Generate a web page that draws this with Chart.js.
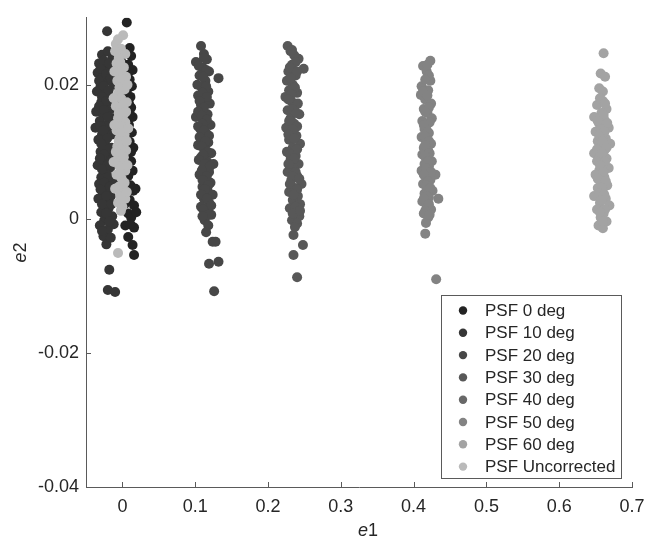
<!DOCTYPE html>
<html>
<head>
<meta charset="utf-8">
<script src="https://cdn.jsdelivr.net/npm/chart.js@4.4.1/dist/chart.umd.min.js"></script>
<style>
  html, body { margin: 0; padding: 0; background: #fff; }
  #wrap { width: 662px; height: 542px; }
</style>
</head>
<body>
<div id="wrap"><canvas id="chart" width="662" height="542"></canvas></div>
<script>
// --- DATA ---
const seriesNames = ['PSF 0 deg', 'PSF 10 deg', 'PSF 20 deg', 'PSF 30 deg',
                     'PSF 40 deg', 'PSF 50 deg', 'PSF 60 deg', 'PSF Uncorrected'];

// [e1, e2] pairs per series
const psf0 = [[0.006,0.0293],[0.010,0.0255],[0.004,0.0248],[0.012,0.0243],[-0.002,0.0236],[0.008,0.0230],
  [0.014,0.0222],[0.002,0.0215],[0.010,0.0208],[0.013,0.0198],[-0.004,0.0205],[0.006,0.0190],[0.011,0.0182],
  [0.000,0.0176],[0.012,0.0166],[0.005,0.0160],[0.014,0.0152],[-0.003,0.0148],[0.009,0.0140],[0.013,0.0129],
  [0.002,0.0122],[0.010,0.0115],[0.015,0.0106],[-0.005,0.0100],[0.007,0.0094],[0.012,0.0086],[0.001,0.0080],
  [0.014,0.0072],[0.008,0.0064],[-0.002,0.0058],[0.011,0.0050],[0.015,0.0042],[0.004,0.0036],[0.010,0.0028],
  [0.016,0.0020],[-0.001,0.0014],[0.008,0.0008],[0.012,0.0002],[0.016,-0.0013],[0.008,-0.0027],[0.014,-0.0039],
  [0.016,-0.0054],[0.004,-0.0010],[0.019,0.0010],[0.018,0.0045],
  [0.008,0.0218],[0.003,0.0200],[0.009,0.0172],[0.004,0.0134],[0.012,0.0100],[0.005,0.0070],[0.009,0.0046],
  [0.003,0.0022],[0.011,-0.0008],[0.006,0.0112],[0.010,0.0156]];
const psf10 = [[-0.021,0.0280],[-0.028,0.0245],[-0.020,0.0250],[-0.014,0.0240],[-0.032,0.0232],[-0.024,0.0228],
  [-0.017,0.0222],[-0.034,0.0218],[-0.027,0.0212],[-0.021,0.0206],[-0.012,0.0200],[-0.030,0.0198],[-0.035,0.0190],
  [-0.024,0.0186],[-0.016,0.0180],[-0.029,0.0174],[-0.020,0.0168],[-0.036,0.0160],[-0.026,0.0156],[-0.013,0.0150],
  [-0.031,0.0146],[-0.022,0.0140],[-0.018,0.0132],[-0.028,0.0126],[-0.033,0.0118],[-0.024,0.0112],[-0.015,0.0106],
  [-0.030,0.0100],[-0.020,0.0094],[-0.026,0.0086],[-0.034,0.0080],[-0.017,0.0076],[-0.023,0.0068],[-0.029,0.0062],
  [-0.013,0.0058],[-0.032,0.0052],[-0.021,0.0046],[-0.027,0.0040],[-0.016,0.0034],[-0.033,0.0030],[-0.024,0.0024],
  [-0.019,0.0016],[-0.029,0.0010],[-0.014,0.0004],[-0.025,-0.0002],[-0.031,-0.0010],[-0.020,-0.0016],[-0.026,-0.0026],
  [-0.012,-0.0008],[-0.022,-0.0038],[-0.018,-0.0076],[-0.020,-0.0106],[-0.010,-0.0109],[-0.037,0.0136],
  [-0.026,0.0236],[-0.018,0.0232],[-0.030,0.0224],[-0.022,0.0216],[-0.016,0.0210],[-0.032,0.0206],[-0.026,0.0198],
  [-0.019,0.0192],[-0.028,0.0182],[-0.022,0.0176],[-0.032,0.0168],[-0.015,0.0164],[-0.025,0.0162],[-0.020,0.0152],
  [-0.030,0.0138],[-0.026,0.0132],[-0.014,0.0126],[-0.021,0.0120],[-0.029,0.0112],[-0.019,0.0104],[-0.025,0.0096],
  [-0.031,0.0090],[-0.015,0.0088],[-0.021,0.0080],[-0.028,0.0074],[-0.019,0.0062],[-0.025,0.0054],[-0.017,0.0048],
  [-0.030,0.0044],[-0.022,0.0034],[-0.028,0.0022],[-0.015,0.0022],[-0.022,0.0008],[-0.018,-0.0004],[-0.028,-0.0018],
  [-0.016,-0.0028]];
const psf20 = [[0.108,0.0258],[0.112,0.0246],[0.101,0.0234],[0.116,0.0238],[0.110,0.0226],[0.119,0.0220],
  [0.132,0.0210],[0.106,0.0214],[0.114,0.0206],[0.109,0.0196],[0.118,0.0190],[0.104,0.0184],[0.113,0.0178],
  [0.108,0.0170],[0.120,0.0172],[0.111,0.0162],[0.117,0.0156],[0.101,0.0152],[0.113,0.0146],[0.121,0.0140],
  [0.107,0.0134],[0.115,0.0128],[0.110,0.0120],[0.118,0.0114],[0.104,0.0110],[0.113,0.0104],[0.122,0.0098],
  [0.108,0.0092],[0.116,0.0086],[0.125,0.0082],[0.111,0.0076],[0.119,0.0070],[0.106,0.0066],[0.114,0.0060],
  [0.121,0.0054],[0.110,0.0048],[0.117,0.0042],[0.124,0.0036],[0.112,0.0030],[0.119,0.0024],[0.108,0.0018],
  [0.115,0.0012],[0.122,0.0006],[0.113,-0.0002],[0.118,-0.0010],[0.115,-0.0020],[0.124,-0.0034],[0.128,-0.0034],
  [0.119,-0.0067],[0.132,-0.0064],[0.126,-0.0108],
  [0.112,0.0240],[0.105,0.0228],[0.115,0.0222],[0.111,0.0212],[0.103,0.0200],[0.115,0.0198],[0.110,0.0188],
  [0.116,0.0182],[0.106,0.0176],[0.112,0.0166],[0.104,0.0160],[0.109,0.0154],[0.116,0.0148],[0.110,0.0142],
  [0.104,0.0138],[0.112,0.0132],[0.119,0.0124],[0.106,0.0122],[0.114,0.0116],[0.109,0.0108],[0.117,0.0100],
  [0.111,0.0096],[0.105,0.0088],[0.113,0.0082],[0.120,0.0078],[0.109,0.0072],[0.116,0.0064],[0.110,0.0058],
  [0.118,0.0050],[0.113,0.0044],[0.108,0.0036],[0.116,0.0030],[0.122,0.0020],[0.111,0.0014],[0.118,0.0006],
  [0.110,0.0004]];
const psf30 = [[0.227,0.0258],[0.231,0.0250],[0.242,0.0239],[0.236,0.0244],[0.249,0.0224],[0.233,0.0230],
  [0.228,0.0220],[0.238,0.0214],[0.226,0.0206],[0.234,0.0200],[0.229,0.0192],[0.240,0.0188],[0.224,0.0182],
  [0.232,0.0176],[0.237,0.0168],[0.227,0.0162],[0.243,0.0156],[0.231,0.0150],[0.236,0.0142],[0.225,0.0136],
  [0.233,0.0130],[0.239,0.0124],[0.229,0.0118],[0.244,0.0112],[0.234,0.0106],[0.226,0.0100],[0.238,0.0094],
  [0.231,0.0088],[0.242,0.0082],[0.235,0.0076],[0.227,0.0070],[0.240,0.0064],[0.232,0.0058],[0.246,0.0052],
  [0.237,0.0046],[0.229,0.0040],[0.241,0.0034],[0.234,0.0028],[0.244,0.0022],[0.230,0.0016],[0.238,0.0010],
  [0.243,0.0004],[0.233,-0.0002],[0.240,-0.0007],[0.235,-0.0024],[0.248,-0.0039],[0.235,-0.0054],[0.240,-0.0087],
  [0.233,0.0252],[0.238,0.0234],[0.230,0.0226],[0.240,0.0220],[0.231,0.0210],[0.237,0.0196],[0.232,0.0186],
  [0.228,0.0178],[0.241,0.0172],[0.233,0.0164],[0.239,0.0158],[0.229,0.0146],[0.240,0.0138],[0.234,0.0134],
  [0.228,0.0126],[0.236,0.0120],[0.240,0.0104],[0.230,0.0096],[0.236,0.0090],[0.228,0.0082],[0.238,0.0070],
  [0.234,0.0064],[0.243,0.0060],[0.230,0.0052],[0.240,0.0044],[0.235,0.0036],[0.238,0.0018],[0.234,0.0008],
  [0.244,0.0012],[0.237,-0.0012]];
const psf40 = [];
const psf50 = [[0.423,0.0236],[0.413,0.0228],[0.418,0.0220],[0.423,0.0206],[0.411,0.0198],[0.420,0.0192],
  [0.410,0.0185],[0.416,0.0178],[0.424,0.0172],[0.414,0.0164],[0.419,0.0158],[0.425,0.0150],[0.412,0.0146],
  [0.418,0.0140],[0.415,0.0134],[0.421,0.0128],[0.411,0.0122],[0.417,0.0118],[0.424,0.0112],[0.414,0.0106],
  [0.420,0.0102],[0.412,0.0096],[0.418,0.0092],[0.425,0.0086],[0.415,0.0082],[0.421,0.0078],[0.411,0.0072],
  [0.430,0.0066],[0.417,0.0062],[0.423,0.0058],[0.413,0.0052],[0.420,0.0048],[0.426,0.0042],[0.415,0.0038],
  [0.434,0.0030],[0.421,0.0032],[0.412,0.0026],[0.418,0.0020],[0.424,0.0014],[0.414,0.0008],[0.420,0.0002],
  [0.417,-0.0006],[0.416,-0.0022],[0.431,-0.0090],
  [0.419,0.0230],[0.421,0.0214],[0.416,0.0208],[0.413,0.0190],[0.419,0.0184],[0.421,0.0166],[0.416,0.0160],
  [0.422,0.0144],[0.414,0.0140],[0.419,0.0130],[0.415,0.0124],[0.421,0.0116],[0.416,0.0110],[0.422,0.0098],
  [0.415,0.0094],[0.420,0.0086],[0.417,0.0076],[0.424,0.0070],[0.414,0.0066],[0.420,0.0056],[0.417,0.0050],
  [0.423,0.0046],[0.418,0.0034],[0.414,0.0030],[0.421,0.0022],[0.416,0.0012],[0.422,0.0006]];
const psf60 = [[0.661,0.0247],[0.657,0.0217],[0.663,0.0212],[0.655,0.0195],[0.660,0.0176],[0.652,0.0170],
  [0.665,0.0164],[0.658,0.0158],[0.648,0.0152],[0.662,0.0148],[0.655,0.0142],[0.668,0.0136],[0.650,0.0130],
  [0.659,0.0126],[0.664,0.0120],[0.653,0.0116],[0.670,0.0112],[0.657,0.0108],[0.662,0.0102],[0.648,0.0098],
  [0.656,0.0094],[0.665,0.0090],[0.652,0.0086],[0.660,0.0082],[0.668,0.0076],[0.655,0.0072],[0.650,0.0066],
  [0.662,0.0062],[0.657,0.0056],[0.666,0.0050],[0.653,0.0046],[0.660,0.0040],[0.648,0.0034],[0.664,0.0030],
  [0.656,0.0024],[0.669,0.0020],[0.652,0.0014],[0.661,0.0008],[0.657,0.0002],[0.665,-0.0004],[0.654,-0.0010],
  [0.660,-0.0014],
  [0.660,0.0190],[0.656,0.0180],[0.663,0.0172],[0.661,0.0155],[0.653,0.0146],[0.666,0.0143],[0.657,0.0134],
  [0.662,0.0130],[0.655,0.0124],[0.660,0.0116],[0.665,0.0106],[0.652,0.0104],[0.659,0.0098],[0.663,0.0086],
  [0.656,0.0080],[0.661,0.0070],[0.653,0.0060],[0.664,0.0056],[0.659,0.0046],[0.655,0.0038],[0.662,0.0036],
  [0.658,0.0028],[0.663,0.0014],[0.656,0.0010],[0.660,-0.0004]];
const psfUncorr = [[0.001,0.0274],[-0.006,0.0268],[-0.009,0.0261],[-0.002,0.0254],[0.004,0.0246],[-0.005,0.0240],
  [-0.008,0.0232],[0.002,0.0226],[-0.004,0.0219],[0.005,0.0212],[-0.007,0.0206],[-0.001,0.0200],[0.003,0.0193],
  [-0.006,0.0187],[-0.002,0.0180],[0.006,0.0174],[-0.009,0.0168],[-0.003,0.0162],[0.002,0.0156],[-0.006,0.0150],
  [0.004,0.0144],[-0.001,0.0138],[-0.008,0.0132],[0.003,0.0126],[-0.004,0.0120],[0.001,0.0114],[-0.007,0.0108],
  [0.005,0.0102],[-0.002,0.0096],[-0.006,0.0090],[0.002,0.0084],[-0.004,0.0078],[0.004,0.0072],[-0.008,0.0066],
  [-0.001,0.0060],[0.003,0.0054],[-0.005,0.0048],[0.001,0.0042],[-0.003,0.0036],[0.004,0.0030],[-0.006,0.0024],
  [0.000,0.0018],[-0.002,0.0012],[-0.006,-0.0051],
  [-0.003,0.0234],[0.000,0.0208],[-0.004,0.0196],[0.001,0.0170],[-0.005,0.0158],[0.000,0.0130],[-0.005,0.0116],
  [-0.002,0.0104],[0.002,0.0092],[-0.003,0.0068],[0.000,0.0048],[-0.002,0.0030],[0.006,0.0116],[-0.009,0.0100],
  [0.005,0.0160],
  [-0.011,0.0220],[-0.012,0.0180],[-0.011,0.0140],[-0.012,0.0085],[-0.010,0.0045],[0.007,0.0200],[0.008,0.0135],
  [0.007,0.0080],[0.006,0.0040],[-0.010,0.0250]];

const seriesData = [psf0, psf10, psf20, psf30, psf40, psf50, psf60, psfUncorr];

const xTicks = [0, 0.1, 0.2, 0.3, 0.4, 0.5, 0.6, 0.7];
const xTickLabels = ['0', '0.1', '0.2', '0.3', '0.4', '0.5', '0.6', '0.7'];
const yTicks = [-0.04, -0.02, 0, 0.02];
const yTickLabels = ['-0.04', '-0.02', '0', '0.02'];

// --- STYLE ---
const colors = ['#232323', '#363636', '#474747', '#585858', '#686868', '#838383', '#a3a3a3', '#bababa'];
const FONT = '"Liberation Sans", Arial, Helvetica, sans-serif';
const AXIS = '#5a5a5a';
const TEXT = '#262626';

// --- PLUGIN: inward ticks, axis titles, legend box ---
const matlabLook = {
    id: 'matlabLook',
    afterDraw(chart) {
        const ctx = chart.ctx;
        const xs = chart.scales.x, ys = chart.scales.y;
        const a = chart.chartArea;
        ctx.save();
        ctx.strokeStyle = AXIS;
        ctx.lineWidth = 1;
        ctx.beginPath();
        xTicks.forEach(v => {
            const px = Math.round(xs.getPixelForValue(v)) + 0.5;
            ctx.moveTo(px, a.bottom); ctx.lineTo(px, a.bottom - 5);
        });
        yTicks.forEach(v => {
            const py = Math.round(ys.getPixelForValue(v)) + 0.5;
            ctx.moveTo(a.left, py); ctx.lineTo(a.left + 5, py);
        });
        ctx.stroke();

        // axis titles (italic e + digit)
        ctx.fillStyle = TEXT;
        ctx.textBaseline = 'middle';
        const drawTitle = (x, y, rot, digit) => {
            ctx.save();
            ctx.translate(x, y);
            ctx.rotate(rot);
            ctx.font = 'italic 18px ' + FONT;
            const w1 = ctx.measureText('e').width;
            ctx.font = '18px ' + FONT;
            const w2 = ctx.measureText(digit).width;
            const start = -(w1 + w2) / 2;
            ctx.textAlign = 'left';
            ctx.font = 'italic 18px ' + FONT;
            ctx.fillText('e', start, 0);
            ctx.font = '18px ' + FONT;
            ctx.fillText(digit, start + w1, 0);
            ctx.restore();
        };
        drawTitle(368, 531, 0, '1');
        drawTitle(21, (a.top + a.bottom) / 2, -Math.PI / 2, '2');

        // legend
        const lx = 441.5, ly = 295.5, lw = 180, lh = 183;
        ctx.fillStyle = '#fff';
        ctx.fillRect(lx, ly, lw, lh);
        ctx.strokeStyle = AXIS;
        ctx.strokeRect(lx, ly, lw, lh);
        ctx.font = '17px ' + FONT;
        ctx.textAlign = 'left';
        chart.data.datasets.forEach((ds, i) => {
            const cy = 310.5 + i * 22.3;
            ctx.fillStyle = ds.backgroundColor;
            ctx.beginPath();
            ctx.arc(463, cy, 4.2, 0, Math.PI * 2);
            ctx.fill();
            ctx.fillStyle = TEXT;
            ctx.fillText(ds.label, 485, cy + 1);
        });
        ctx.restore();
    }
};

// --- CHART ---
const datasets = seriesNames.map((name, i) => ({
    label: name,
    data: seriesData[i].map(p => ({ x: p[0], y: p[1] })),
    backgroundColor: colors[i],
    borderColor: colors[i],
    pointRadius: 5,
    pointBorderWidth: 0,
    order: seriesNames.length - i   // later series drawn on top
}));

new Chart(document.getElementById('chart').getContext('2d'), {
    type: 'scatter',
    data: { datasets: datasets },
    options: {
        responsive: false,
        animation: false,
        devicePixelRatio: 1,
        events: [],
        layout: { padding: { top: 8, right: 30, left: 0, bottom: 0 } },
        plugins: { legend: { display: false }, tooltip: { enabled: false } },
        scales: {
            x: {
                type: 'linear', min: -0.05, max: 0.7,
                afterBuildTicks: s => { s.ticks = xTicks.map(v => ({ value: v })); },
                afterFit: s => { s.height = 55; },
                grid: { display: false, drawTicks: false },
                border: { display: true, color: AXIS, width: 1 },
                ticks: {
                    autoSkip: false, maxRotation: 0, padding: 9, color: TEXT,
                    font: { family: FONT, size: 18 },
                    callback: (v, i) => xTickLabels[i]
                }
            },
            y: {
                type: 'linear', min: -0.04, max: 0.03,
                afterBuildTicks: s => { s.ticks = yTicks.map(v => ({ value: v })); },
                afterFit: s => { s.width = 86; },
                grid: { display: false, drawTicks: false },
                border: { display: true, color: AXIS, width: 1 },
                ticks: {
                    autoSkip: false, padding: 7, color: TEXT,
                    font: { family: FONT, size: 18 },
                    callback: (v, i) => yTickLabels[i]
                }
            }
        }
    },
    plugins: [matlabLook]
});
</script>
</body>
</html>
